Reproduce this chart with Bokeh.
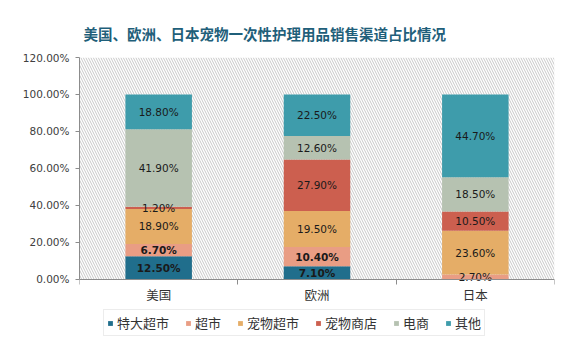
import numpy as np
from bokeh.plotting import figure
from bokeh.models import ColumnDataSource, Range1d, FixedTicker, BoxAnnotation, Legend, LegendItem
from bokeh.core.properties import value
from bokeh.embed import file_html
from bokeh.resources import INLINE

categories = ["美国", "欧洲", "日本"]
series = ["特大超市", "超市", "宠物超市", "宠物商店", "电商", "其他"]
hypermarket = [12.5, 7.1, 0.0]
supermarket = [6.7, 10.4, 2.7]
pet_superstore = [18.9, 19.5, 23.6]
pet_shop = [1.2, 27.9, 10.5]
ecommerce = [41.9, 12.6, 18.5]
other = [18.8, 22.5, 44.7]
y_ticks = [0, 20, 40, 60, 80, 100, 120]

colors = ["#206E8C", "#E99D84", "#E5AD67", "#CC5F4F", "#B6C2B1", "#3E9CAB"]
values_list = [hypermarket, supermarket, pet_superstore, pet_shop, ecommerce, other]

xs = np.arange(len(categories)) + 0.5
data = {"x": xs}
for name, vals in zip(series, values_list):
    data[name] = vals
source = ColumnDataSource(data)

# frame extends below 0 so the legend can sit inside it
p = figure(width=580, height=354, output_backend="svg", toolbar_location=None,
           x_range=Range1d(0, len(categories)), y_range=Range1d(-35.7, 120),
           min_border_left=79, min_border_right=26, min_border_top=57, min_border_bottom=9,
           background_fill_color="white", border_fill_color="white", outline_line_color=None)

p.title.text = "美国、欧洲、日本宠物一次性护理用品销售渠道占比情况"
p.title.text_font = "Noto Sans CJK SC"
p.title.text_font_size = "14.5px"
p.title.text_font_style = "bold"
p.title.text_color = "#1F5F7A"
p.title.align = "left"
p.title.offset = 4
p.title.standoff = 28

hatch = BoxAnnotation(bottom=0, fill_color="white", fill_alpha=1, line_color=None,
                      hatch_pattern="\\", hatch_color="#c8c8c8", hatch_scale=5,
                      hatch_weight=1, level="underlay")
p.add_layout(hatch)

renderers = p.vbar_stack(series, x="x", width=0.42, source=source,
                         fill_color=colors, line_color=None)

# segment labels
lx, ly, lt, ls = [], [], [], []
for i in range(len(categories)):
    bottom = 0.0
    for j, vals in enumerate(values_list):
        v = vals[i]
        if v > 0:
            lx.append(xs[i])
            ly.append(bottom + v / 2)
            lt.append(f"{v:.2f}%")
            ls.append("bold" if (i < 2 and j < 2) else "normal")
        bottom += v
lsrc = ColumnDataSource(dict(x=lx, y=ly, text=lt, style=ls))
p.text(x="x", y="y", text="text", source=lsrc, text_align="center", text_baseline="middle",
       text_font=value("DejaVu Sans"), text_font_size="10.5px", text_color="#1a1a1a",
       text_font_style="style")

p.xgrid.visible = False
p.ygrid.visible = False

p.yaxis.ticker = FixedTicker(ticks=y_ticks)
p.yaxis.bounds = (0, 120)
p.yaxis.major_label_overrides = {t: f"{t:.2f}%" for t in y_ticks}
p.yaxis.major_label_text_font = "DejaVu Sans"
p.yaxis.major_label_text_font_size = "10.5px"
p.yaxis.major_label_text_color = "#404040"
p.yaxis.axis_line_color = "#8c8c8c"
p.yaxis.major_tick_line_color = "#8c8c8c"
p.yaxis.major_tick_in = 0
p.yaxis.major_tick_out = 4
p.yaxis.minor_tick_line_color = None
p.yaxis.major_label_standoff = 6

p.xaxis.fixed_location = 0
p.xaxis.ticker = FixedTicker(ticks=list(xs), minor_ticks=list(range(len(categories) + 1)))
p.xaxis.major_label_overrides = {float(x): c for x, c in zip(xs, categories)}
p.xaxis.major_label_text_font = "Noto Sans CJK SC"
p.xaxis.major_label_text_font_size = "12.5px"
p.xaxis.major_label_text_color = "#333333"
p.xaxis.axis_line_color = "#8c8c8c"
p.xaxis.major_tick_line_color = None
p.xaxis.major_tick_in = 0
p.xaxis.major_tick_out = 0
p.xaxis.minor_tick_line_color = "#8c8c8c"
p.xaxis.minor_tick_in = 0
p.xaxis.minor_tick_out = 5
p.xaxis.major_label_standoff = 1

items = [LegendItem(label=name, renderers=[r]) for name, r in zip(series, renderers)]
legend = Legend(items=items, orientation="horizontal", location=(24, 9),
                label_text_font="Noto Sans CJK SC", label_text_font_size="13px",
                label_text_color="#333333", glyph_width=6, glyph_height=6,
                label_standoff=4, spacing=16, padding=3, margin=0, label_height=12,
                border_line_color="#d9d9d9", background_fill_color="white",
                background_fill_alpha=1)
p.add_layout(legend)

open("out.html", "w").write(file_html(p, INLINE))
